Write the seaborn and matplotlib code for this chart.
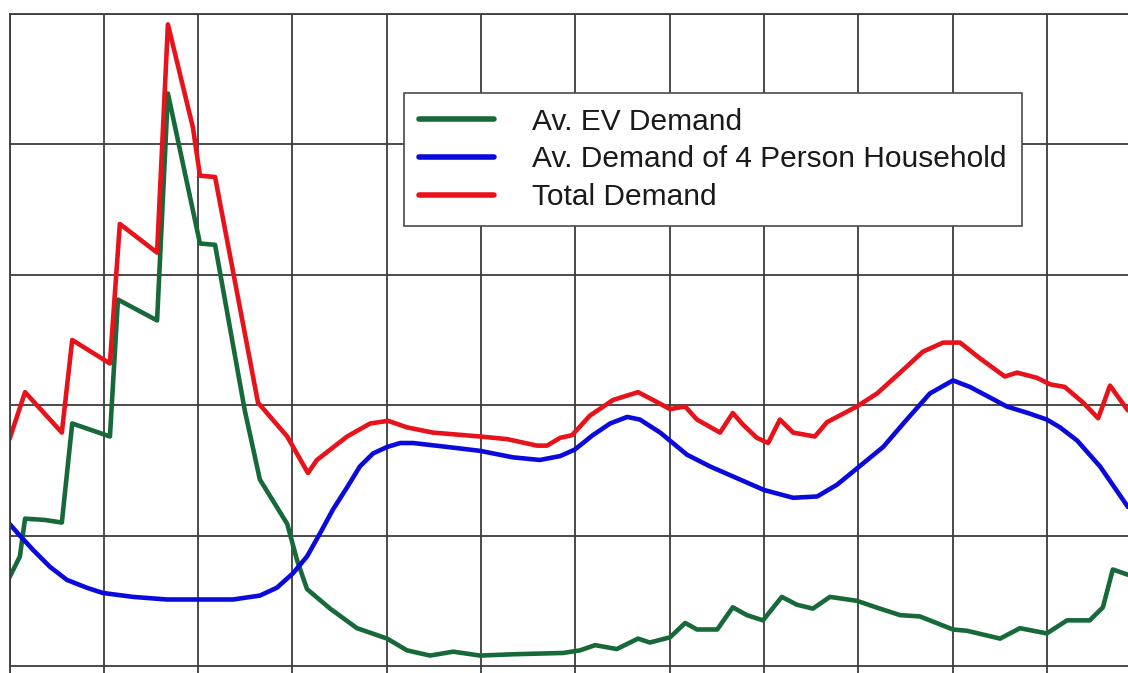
import pandas as pd
import seaborn as sns
import matplotlib.pyplot as plt

# values: hours of the day vs demand (grid units)
ev_hours = [0.0, 0.22, 0.33, 0.75, 1.11, 1.33, 2.13, 2.30, 3.13, 3.36, 4.04, 4.36, 4.99,
            5.31, 5.89, 6.10, 6.31, 6.80, 7.37, 8.01, 8.43, 8.92, 9.41, 9.98, 10.68,
            11.74, 12.10, 12.42, 12.88, 13.33, 13.58, 14.01, 14.33, 14.58, 15.01, 15.34,
            15.64, 15.98, 16.38, 16.70, 17.04, 17.40, 17.97, 18.46, 18.89, 19.31, 20.01,
            20.31, 21.01, 21.43, 22.00, 22.43, 22.91, 23.19, 23.40, 23.72]
ev_demand = [0.68, 0.84, 1.13, 1.12, 1.10, 1.86, 1.76, 2.81, 2.65, 4.39, 3.24, 3.23, 1.96,
             1.43, 1.09, 0.81, 0.59, 0.44, 0.29, 0.21, 0.12, 0.08, 0.11, 0.08, 0.09,
             0.10, 0.12, 0.16, 0.13, 0.21, 0.18, 0.22, 0.33, 0.28, 0.28, 0.45,
             0.39, 0.35, 0.53, 0.47, 0.44, 0.53, 0.50, 0.44, 0.39, 0.38, 0.28,
             0.27, 0.21, 0.29, 0.25, 0.35, 0.35, 0.45, 0.74, 0.70]

house_hours = [0.0, 0.22, 0.50, 0.86, 1.22, 1.64, 1.98, 2.62, 3.34, 4.04, 4.74, 5.31, 5.67,
               6.01, 6.31, 6.59, 6.86, 7.16, 7.43, 7.71, 8.01, 8.29, 8.56, 9.28, 9.98,
               10.68, 11.25, 11.68, 11.99, 12.37, 12.74, 13.10, 13.37, 13.80, 14.37, 14.86,
               15.43, 16.00, 16.62, 17.13, 17.55, 17.99, 18.53, 19.03, 19.52, 20.01, 20.37,
               20.79, 21.15, 21.60, 22.00, 22.28, 22.64, 23.13, 23.72]
house_demand = [1.09, 1.00, 0.89, 0.76, 0.66, 0.60, 0.56, 0.53, 0.51, 0.51, 0.51, 0.54, 0.60,
                0.71, 0.84, 1.02, 1.20, 1.37, 1.53, 1.63, 1.68, 1.71, 1.71, 1.68, 1.65,
                1.60, 1.58, 1.61, 1.66, 1.77, 1.86, 1.91, 1.89, 1.79, 1.62, 1.53,
                1.44, 1.35, 1.29, 1.30, 1.39, 1.52, 1.68, 1.89, 2.09, 2.19, 2.14,
                2.06, 1.99, 1.94, 1.89, 1.83, 1.73, 1.53, 1.22]

total_hours = [0.0, 0.33, 1.11, 1.33, 2.13, 2.34, 3.13, 3.36, 3.89, 4.04, 4.36, 5.27, 5.89,
               6.33, 6.52, 7.16, 7.65, 8.03, 8.43, 8.98, 9.98, 10.55, 11.19, 11.40, 11.68,
               11.93, 12.31, 12.80, 13.33, 13.65, 14.01, 14.33, 14.58, 15.07, 15.34, 15.56,
               15.85, 16.09, 16.34, 16.62, 17.08, 17.34, 17.97, 18.40, 18.89, 19.37, 19.80,
               20.16, 20.58, 21.11, 21.37, 21.79, 22.07, 22.38, 22.77, 23.09, 23.34, 23.72]
total_demand = [1.74, 2.10, 1.79, 2.50, 2.32, 3.39, 3.17, 4.92, 4.13, 3.76, 3.75, 2.02, 1.76,
                1.48, 1.58, 1.76, 1.86, 1.88, 1.83, 1.79, 1.76, 1.74, 1.69, 1.69, 1.75,
                1.77, 1.92, 2.04, 2.10, 2.04, 1.97, 1.99, 1.89, 1.79, 1.94, 1.85,
                1.75, 1.71, 1.89, 1.79, 1.76, 1.87, 1.99, 2.09, 2.25, 2.41, 2.48,
                2.48, 2.36, 2.22, 2.25, 2.21, 2.16, 2.14, 2.02, 1.90, 2.15, 1.96]

labels = ['Av. EV Demand', 'Av. Demand of 4 Person Household', 'Total Demand']
colors = ['#17693a', '#0a0adc', '#e8121a']

df = pd.concat([
    pd.DataFrame({'hour': ev_hours, 'demand': ev_demand, 'series': labels[0]}),
    pd.DataFrame({'hour': house_hours, 'demand': house_demand, 'series': labels[1]}),
    pd.DataFrame({'hour': total_hours, 'demand': total_demand, 'series': labels[2]}),
])

sns.set_style('whitegrid')
plt.rcParams['font.family'] = ['Liberation Sans', 'DejaVu Sans']

fig = plt.figure(figsize=(11.28, 6.73), dpi=100)
ax = fig.add_axes([9.5 / 1128, 0, 1 - 9.5 / 1128, 1 - 14 / 673])

sns.lineplot(data=df, x='hour', y='demand', hue='series', hue_order=labels,
             palette=colors, linewidth=3.3, estimator=None, sort=True, ax=ax)
for line in ax.get_lines():
    line.set_solid_joinstyle('round')
    line.set_solid_capstyle('round')

ax.set_xlim(0, (1128 - 9.5) / 47.15)
ax.set_ylim(-7 / 130.4, 5)
ax.set_xticks(range(0, 24, 2))
ax.set_yticks(range(0, 6))
ax.tick_params(left=False, bottom=False, labelleft=False, labelbottom=False)
ax.set_xlabel('')
ax.set_ylabel('')
ax.grid(True, color='#3c3c3c', linewidth=1.3)
ax.set_axisbelow(True)

for side in ['right', 'bottom']:
    ax.spines[side].set_visible(False)
for side in ['left', 'top']:
    ax.spines[side].set_color('#3c3c3c')
    ax.spines[side].set_linewidth(1.3)

handles, labs = ax.get_legend_handles_labels()
leg = ax.legend(handles, labs, loc='upper left',
                bbox_to_anchor=(404 / 1128, 1 - 93 / 673), bbox_transform=fig.transFigure,
                borderaxespad=0, fontsize=21.5, frameon=True, fancybox=False, framealpha=1,
                edgecolor='#4a4a4a', handlelength=2.5, handletextpad=1.3,
                labelspacing=0.32, borderpad=0.5)
leg.get_frame().set_linewidth(1.2)
for h in leg.get_lines():
    h.set_linewidth(4)
for t in leg.get_texts():
    t.set_color('#1a1a1a')

fig.savefig('out.png', dpi=100)
